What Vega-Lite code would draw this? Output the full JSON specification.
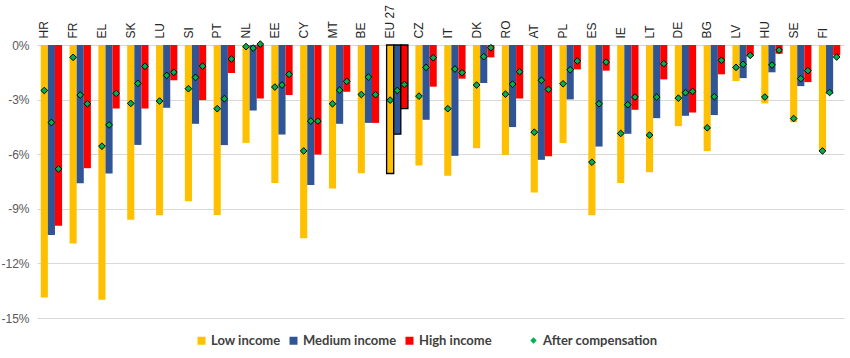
{
  "$schema": "https://vega.github.io/schema/vega-lite/v6.json",
  "width": 807,
  "height": 273,
  "autosize": {"type": "none"},
  "padding": {"left": 37, "top": 45, "right": 6, "bottom": 40},
  "background": "white",
  "config": {
    "view": {"stroke": null},
    "axis": {"labelFont": "Liberation Sans", "titleFont": "Liberation Sans"},
    "legend": {"labelFont": "Lato", "labelFontSize": 13, "labelFontWeight": "bold", "labelColor": "#404040", "padding": 0}
  },
  "data": {"values": [
    {"c":"HR","g":"Low income","v":-13.87,"a":-2.5},{"c":"HR","g":"Medium income","v":-10.44,"a":-4.26},{"c":"HR","g":"High income","v":-9.93,"a":-6.81},
    {"c":"FR","g":"Low income","v":-10.9,"a":-0.68},{"c":"FR","g":"Medium income","v":-7.6,"a":-2.75},{"c":"FR","g":"High income","v":-6.77,"a":-3.23},
    {"c":"EL","g":"Low income","v":-14.0,"a":-5.56},{"c":"EL","g":"Medium income","v":-7.06,"a":-4.39},{"c":"EL","g":"High income","v":-3.49,"a":-2.66},
    {"c":"SK","g":"Low income","v":-9.6,"a":-3.21},{"c":"SK","g":"Medium income","v":-5.49,"a":-2.11},{"c":"SK","g":"High income","v":-3.49,"a":-1.17},
    {"c":"LU","g":"Low income","v":-9.36,"a":-3.08},{"c":"LU","g":"Medium income","v":-3.45,"a":-1.67},{"c":"LU","g":"High income","v":-1.94,"a":-1.5},
    {"c":"SI","g":"Low income","v":-8.59,"a":-2.4},{"c":"SI","g":"Medium income","v":-4.33,"a":-1.78},{"c":"SI","g":"High income","v":-3.03,"a":-1.16},
    {"c":"PT","g":"Low income","v":-9.34,"a":-3.5},{"c":"PT","g":"Medium income","v":-5.5,"a":-2.95},{"c":"PT","g":"High income","v":-1.54,"a":-0.77},
    {"c":"NL","g":"Low income","v":-5.38,"a":-0.09},{"c":"NL","g":"Medium income","v":-3.6,"a":-0.17},{"c":"NL","g":"High income","v":-2.94,"a":0.05},
    {"c":"EE","g":"Low income","v":-7.58,"a":-2.31},{"c":"EE","g":"Medium income","v":-4.92,"a":-2.2},{"c":"EE","g":"High income","v":-2.75,"a":-1.61},
    {"c":"CY","g":"Low income","v":-10.62,"a":-5.82},{"c":"CY","g":"Medium income","v":-7.69,"a":-4.18},{"c":"CY","g":"High income","v":-6.02,"a":-4.18},
    {"c":"MT","g":"Low income","v":-7.89,"a":-3.23},{"c":"MT","g":"Medium income","v":-4.33,"a":-2.48},{"c":"MT","g":"High income","v":-2.57,"a":-2.0},
    {"c":"BE","g":"Low income","v":-7.05,"a":-2.72},{"c":"BE","g":"Medium income","v":-4.28,"a":-1.76},{"c":"BE","g":"High income","v":-4.28,"a":-2.73},
    {"c":"EU 27","g":"Low income","v":-7.06,"a":-3.03},{"c":"EU 27","g":"Medium income","v":-4.9,"a":-2.5},{"c":"EU 27","g":"High income","v":-3.5,"a":-2.17},
    {"c":"CZ","g":"Low income","v":-6.62,"a":-2.81},{"c":"CZ","g":"Medium income","v":-4.11,"a":-1.23},{"c":"CZ","g":"High income","v":-2.29,"a":-0.7},
    {"c":"IT","g":"Low income","v":-7.19,"a":-3.5},{"c":"IT","g":"Medium income","v":-6.09,"a":-1.32},{"c":"IT","g":"High income","v":-1.85,"a":-1.52},
    {"c":"DK","g":"Low income","v":-5.67,"a":-2.2},{"c":"DK","g":"Medium income","v":-2.09,"a":-0.64},{"c":"DK","g":"High income","v":-0.68,"a":-0.15},
    {"c":"RO","g":"Low income","v":-6.04,"a":-2.7},{"c":"RO","g":"Medium income","v":-4.51,"a":-2.15},{"c":"RO","g":"High income","v":-2.94,"a":-1.47},
    {"c":"AT","g":"Low income","v":-8.11,"a":-4.79},{"c":"AT","g":"Medium income","v":-6.31,"a":-1.94},{"c":"AT","g":"High income","v":-6.11,"a":-2.44},
    {"c":"PL","g":"Low income","v":-5.39,"a":-2.13},{"c":"PL","g":"Medium income","v":-2.99,"a":-1.36},{"c":"PL","g":"High income","v":-1.34,"a":-0.88},
    {"c":"ES","g":"Low income","v":-9.36,"a":-6.44},{"c":"ES","g":"Medium income","v":-5.58,"a":-3.23},{"c":"ES","g":"High income","v":-1.41,"a":-0.94},
    {"c":"IE","g":"Low income","v":-7.58,"a":-4.86},{"c":"IE","g":"Medium income","v":-4.88,"a":-3.28},{"c":"IE","g":"High income","v":-3.56,"a":-2.86},
    {"c":"LT","g":"Low income","v":-6.99,"a":-4.95},{"c":"LT","g":"Medium income","v":-4.02,"a":-2.86},{"c":"LT","g":"High income","v":-1.89,"a":-1.03},
    {"c":"DE","g":"Low income","v":-4.46,"a":-2.92},{"c":"DE","g":"Medium income","v":-3.89,"a":-2.62},{"c":"DE","g":"High income","v":-3.71,"a":-2.55},
    {"c":"BG","g":"Low income","v":-5.83,"a":-4.55},{"c":"BG","g":"Medium income","v":-3.85,"a":-2.84},{"c":"BG","g":"High income","v":-1.61,"a":-0.84},
    {"c":"LV","g":"Low income","v":-1.98,"a":-1.23},{"c":"LV","g":"Medium income","v":-1.82,"a":-1.06},{"c":"LV","g":"High income","v":-0.61,"a":-0.57},
    {"c":"HU","g":"Low income","v":-3.21,"a":-2.86},{"c":"HU","g":"Medium income","v":-1.5,"a":-1.1},{"c":"HU","g":"High income","v":-0.48,"a":-0.28},
    {"c":"SE","g":"Low income","v":-4.24,"a":-4.04},{"c":"SE","g":"Medium income","v":-2.26,"a":-1.85},{"c":"SE","g":"High income","v":-2.04,"a":-1.41},
    {"c":"FI","g":"Low income","v":-5.83,"a":-5.82},{"c":"FI","g":"Medium income","v":-2.68,"a":-2.61},{"c":"FI","g":"High income","v":-0.57,"a":-0.66}
  ]},
  "encoding": {
    "x": {
      "field": "c", "type": "nominal", "sort": null,
      "scale": {"paddingInner": 0.26, "paddingOuter": 0.13},
      "axis": {"orient": "top", "title": null, "labelAngle": -90, "domain": false, "ticks": false,
               "labelPadding": 7, "labelOffset": -7, "labelFontSize": 12, "labelColor": "#262626"}
    },
    "xOffset": {"field": "g", "type": "nominal", "sort": ["Low income", "Medium income", "High income"]},
    "y": {
      "type": "quantitative",
      "scale": {"domain": [-15, 0], "nice": false},
      "axis": {"title": null, "values": [0, -3, -6, -9, -12, -15], "labelExpr": "datum.value + '%'",
               "domain": false, "ticks": false, "grid": true, "gridColor": "#D9D9D9", "gridWidth": 1,
               "labelPadding": 8, "labelFontSize": 12, "labelColor": "#595959"}
    }
  },
  "layer": [
    {
      "mark": {"type": "bar", "stroke": "black"},
      "encoding": {
        "y": {"field": "v", "type": "quantitative"},
        "color": {
          "field": "g", "type": "nominal",
          "sort": ["Low income", "Medium income", "High income"],
          "scale": {"domain": ["Low income", "Medium income", "High income"], "range": ["#FFC000", "#2F5597", "#FF0000"]},
          "legend": {"title": null, "orient": "none", "direction": "horizontal", "legendX": 158, "legendY": 289,
                     "symbolType": "square", "symbolSize": 64, "symbolStrokeWidth": 0, "columnPadding": 6, "labelOffset": 3}
        },
        "strokeWidth": {"condition": {"test": "datum.c === 'EU 27'", "value": 1.3}, "value": 0}
      }
    },
    {
      "mark": {"type": "point", "filled": true, "fill": "#00B050", "stroke": "black", "strokeWidth": 1, "size": 45, "opacity": 1},
      "encoding": {
        "y": {"field": "a", "type": "quantitative"},
        "shape": {
          "datum": "After compensation", "type": "nominal",
          "scale": {"range": ["diamond"]},
          "legend": {"title": null, "orient": "none", "direction": "horizontal", "legendX": 490, "legendY": 289,
                     "symbolSize": 40, "symbolFillColor": "#00B050", "symbolStrokeColor": "black", "symbolStrokeWidth": 0.8, "labelOffset": 3}
        }
      }
    }
  ]
}
